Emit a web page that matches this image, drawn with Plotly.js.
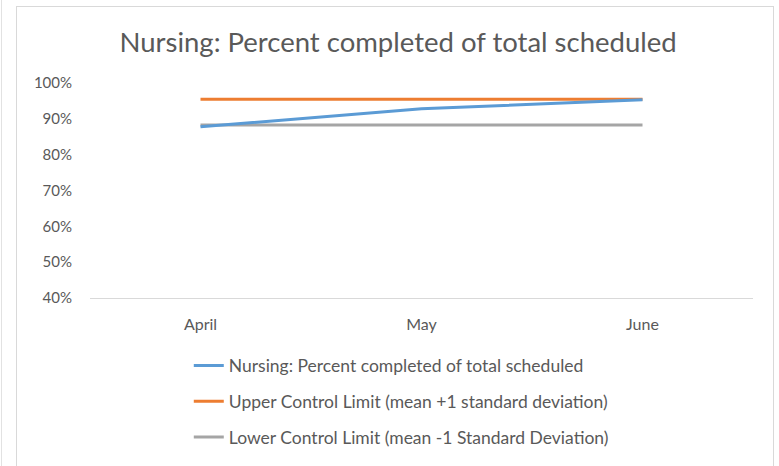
<!DOCTYPE html>
<html>
<head>
<meta charset="utf-8">
<script src="https://cdn.plot.ly/plotly-3.0.1.min.js"></script>
<style>
  html, body { margin: 0; padding: 0; background: #fff; }
  #wrap { position: relative; width: 779px; height: 466px; }
  #edge { position: absolute; left: 1px; top: 0; width: 1px; height: 466px; background: #e2e2e2; }
  #frame { position: absolute; left: 16px; top: 6px; width: 758px; height: 462px;
           border: 1px solid #d9d9d9; box-sizing: border-box; }
  #chart { position: absolute; left: 0; top: 0; width: 779px; height: 466px; }
</style>
</head>
<body>
<div id="wrap">
  <div id="edge"></div>
  <div id="frame"></div>
  <div id="chart"></div>
</div>
<script>
// --- Data ---
const months = ['April', 'May', 'June'];
const completedPct = [87.8, 92.8, 95.3];
const upperLimit = [95.5, 95.5, 95.5];
const lowerLimit = [88.3, 88.3, 88.3];
const yTicks = [40, 50, 60, 70, 80, 90, 100];

const FONT = 'Lato, "Open Sans", sans-serif';
const GREY_TXT = '#595959';

function line(name, y, color, rank) {
  return {
    x: months, y: y, type: 'scatter', mode: 'lines', name: name,
    legendgroup: 'g' + rank, legendrank: rank,
    line: { color: color, width: 3 },
    hoverinfo: 'skip'
  };
}

const blue = line('Nursing: Percent completed of total scheduled', completedPct, '#5B9BD5', 1);
const orange = line('Upper Control Limit (mean +1 standard deviation)', upperLimit, '#ED7D31', 2);
const gray = line('Lower Control Limit (mean -1 Standard Deviation)', lowerLimit, '#A5A5A5', 3);

// limits drawn below the blue series; legend order comes from legendrank
Plotly.newPlot('chart', [gray, orange, blue], {
  width: 779, height: 466,
  paper_bgcolor: 'rgba(0,0,0,0)', plot_bgcolor: 'rgba(0,0,0,0)',
  margin: { l: 90, r: 26, t: 83, b: 168 },
  font: { family: FONT, color: GREY_TXT },
  title: {
    text: 'Nursing: Percent completed of total scheduled',
    x: 0.511, xref: 'container', xanchor: 'center',
    y: 0.91, yref: 'container', yanchor: 'middle',
    font: { size: 27.5, color: GREY_TXT, family: FONT }
  },
  xaxis: {
    type: 'category', range: [-0.5, 2.5],
    showgrid: false, zeroline: false,
    showline: true, linecolor: '#d9d9d9', linewidth: 1,
    ticks: '', ticklabelstandoff: 12,
    tickfont: { size: 16, color: GREY_TXT }
  },
  yaxis: {
    range: [40, 100], tickvals: yTicks,
    ticktext: yTicks.map(v => v + '%'),
    showgrid: false, zeroline: false, showline: false,
    ticks: '', ticklabelstandoff: 17,
    tickfont: { size: 15, color: GREY_TXT }
  },
  showlegend: true,
  legend: {
    orientation: 'v', traceorder: 'grouped', tracegroupgap: 10,
    x: 0.149, xanchor: 'left',
    y: 0.254, yref: 'container', yanchor: 'top',
    font: { size: 17.5, color: GREY_TXT, family: FONT },
    bgcolor: 'rgba(0,0,0,0)'
  }
}, { displayModeBar: false, staticPlot: true });
</script>
</body>
</html>
